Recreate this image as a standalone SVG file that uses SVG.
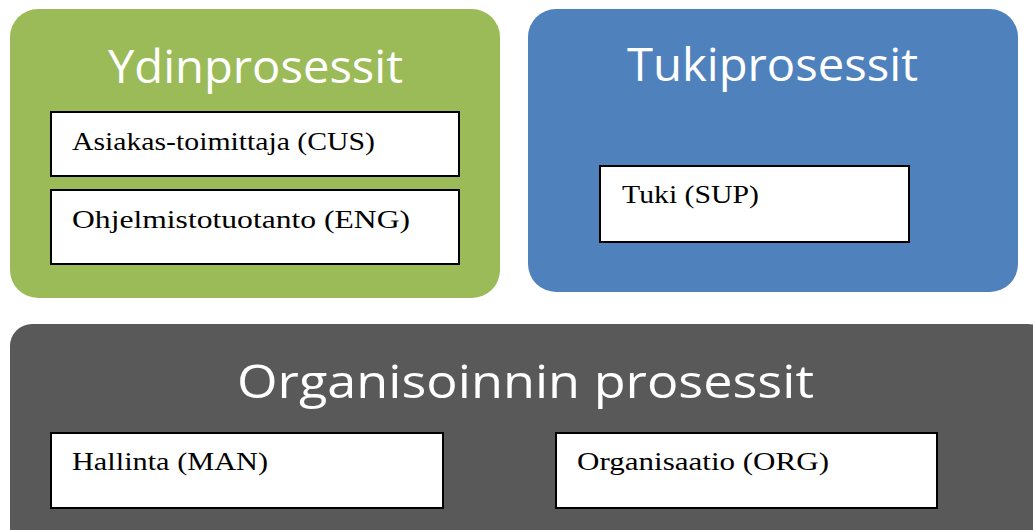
<svg xmlns="http://www.w3.org/2000/svg" width="1033" height="530" viewBox="0 0 1033 530">
<style>
.title{font-family:"Open Sans","Liberation Sans",sans-serif;fill:#fff;font-size:46px}
.box{fill:#fff;stroke:#000;stroke-width:2}
.lbl{font-family:"Liberation Serif","DejaVu Serif",serif;fill:#000;font-size:26px}
</style>
<rect width="1033" height="530" fill="#fff"/>
<g id="ydin">
<rect x="10" y="9" width="490" height="289" rx="28" fill="#9BBB59"/>
<text class="title" x="108" y="83" textLength="295" lengthAdjust="spacingAndGlyphs">Ydinprosessit</text>
</g>
<g id="cus">
<rect class="box" x="51" y="112" width="408" height="64"/>
<text class="lbl" x="72" y="150" textLength="303" lengthAdjust="spacingAndGlyphs">Asiakas-toimittaja (CUS)</text>
</g>
<g id="eng">
<rect class="box" x="51" y="190" width="408" height="74"/>
<text class="lbl" x="72" y="228" textLength="338" lengthAdjust="spacingAndGlyphs">Ohjelmistotuotanto (ENG)</text>
</g>
<g id="tuki">
<rect x="528" y="9" width="490" height="283" rx="28" fill="#4F81BD"/>
<text class="title" x="627" y="81" textLength="291" lengthAdjust="spacingAndGlyphs">Tukiprosessit</text>
</g>
<g id="sup">
<rect class="box" x="600" y="166" width="309" height="76"/>
<text class="lbl" x="622" y="203" textLength="137" lengthAdjust="spacingAndGlyphs">Tuki (SUP)</text>
</g>
<g id="org-proc">
<rect x="10" y="324" width="1040" height="230" rx="22" fill="#595959"/>
<text class="title" x="237" y="398" font-size="50" textLength="577" lengthAdjust="spacingAndGlyphs">Organisoinnin prosessit</text>
</g>
<g id="man">
<rect class="box" x="51" y="433" width="392" height="75"/>
<text class="lbl" x="72" y="470" textLength="196" lengthAdjust="spacingAndGlyphs">Hallinta (MAN)</text>
</g>
<g id="org">
<rect class="box" x="556" y="433" width="381" height="75"/>
<text class="lbl" x="577" y="470" textLength="252" lengthAdjust="spacingAndGlyphs">Organisaatio (ORG)</text>
</g>
<g id="connectors"/>
</svg>
